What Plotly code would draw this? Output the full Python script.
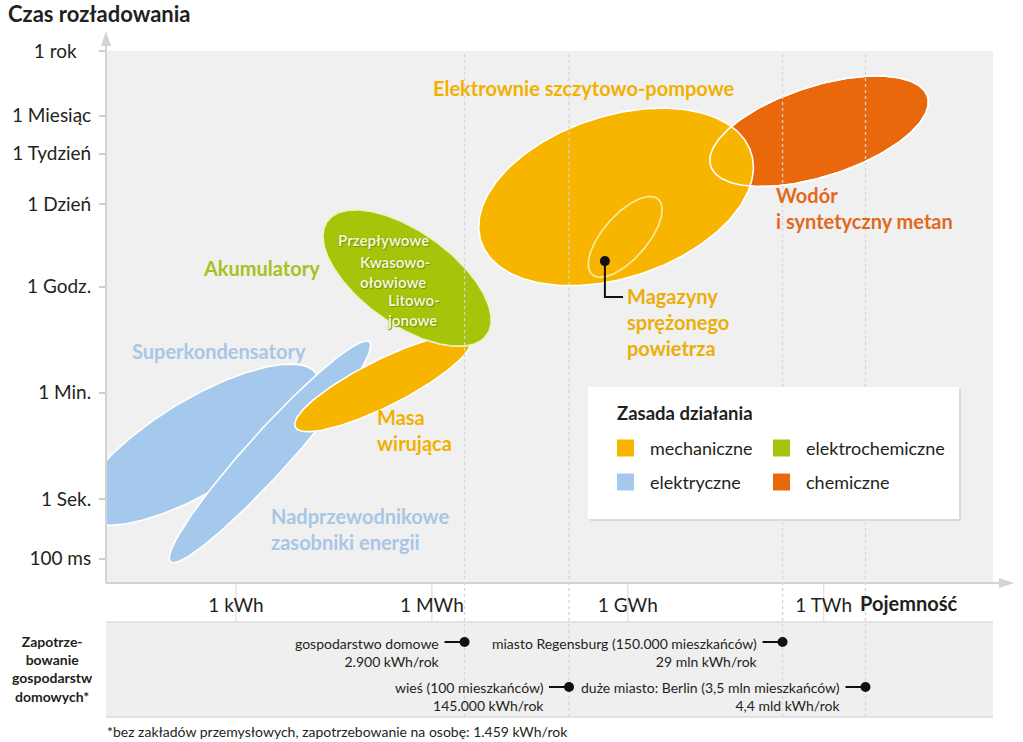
import numpy as np
import plotly.graph_objects as go

# ---------------- data ----------------
cap_tick_wh = [1e3, 1e6, 1e9, 1e12]
cap_tick_text = ["1 kWh", "1 MWh", "1 GWh", "1 TWh"]

time_tick_s = [0.1, 1, 60, 3600, 86400, 604800, 2629800, 31557600]
time_tick_text = ["100 ms", "1 Sek.", "1 Min.", "1 Godz.", "1 Dzień", "1 Tydzień", "1 Miesiąc",
                  "1 rok\u00a0\u00a0\u00a0"]

# storage technologies: ellipses in log10(Wh) x log10(s) space
tech_names = ["Superkondensatory", "Nadprzewodnikowe zasobniki energii", "Masa wirująca",
              "Akumulatory", "Wodór i syntetyczny metan", "Elektrownie szczytowo-pompowe"]
tech_type = ["elektryczne", "elektryczne", "mechaniczne", "elektrochemiczne", "chemiczne", "mechaniczne"]
tech_cx = [2.45, 3.52, 5.25, 5.62, 11.93, 8.82]
tech_cy = [0.91, 0.79, 1.94, 3.70, 6.16, 5.06]
tech_a = [2.14, 2.39, 1.53, 1.55, 1.76, 2.20]
tech_b = [0.75, 0.34, 0.38, 0.75, 0.75, 1.34]
tech_angle = [34.0, 50.5, 29.0, -39.5, 20.0, 21.7]

# compressed air storage (outline inside pumped hydro)
caes_cx, caes_cy, caes_a, caes_b, caes_angle = 8.96, 4.39, 0.81, 0.35, 52.5
caes_marker_pos = -0.63  # fraction of semi-major axis where the marker sits

# household demand reference points (log10 Wh per year, as placed on the chart)
demand_log_wh = [6.50, 8.10, 11.37, 12.64]
demand_label = ["gospodarstwo domowe", "wieś (100 mieszkańców)",
                "miasto Regensburg (150.000 mieszkańców)", "duże miasto: Berlin (3,5 mln mieszkańców)"]
demand_value = ["2.900 kWh/rok", "145.000 kWh/rok", "29 mln kWh/rok", "4,4 mld kWh/rok"]
demand_row = [0, 1, 0, 1]

legend_cats = ["mechaniczne", "elektrochemiczne", "elektryczne", "chemiczne"]
cat_color = {"mechaniczne": "#F7B500", "elektrochemiczne": "#A6C40A",
             "elektryczne": "#A4C9EC", "chemiczne": "#E9680C"}

# ---------------- layout helpers ----------------
W, H = 1023, 742
L, T, R, B = 106, 51, 993, 583
FONT = "Lato"


def pxx(p):
    return (p - L) / (R - L)


def pxy(p):
    return (B - p) / (B - T)


def ellipse(cx, cy, a, b, ang, n=240):
    t = np.linspace(0, 2 * np.pi, n)
    th = np.radians(ang)
    x = cx + a * np.cos(t) * np.cos(th) - b * np.sin(t) * np.sin(th)
    y = cy + a * np.cos(t) * np.sin(th) + b * np.sin(t) * np.cos(th)
    return x, y


fig = go.Figure()

outline = {"elektrochemiczne": "#EEF3C4"}
for i in range(len(tech_names)):
    x, y = ellipse(tech_cx[i], tech_cy[i], tech_a[i], tech_b[i], tech_angle[i])
    fig.add_trace(go.Scatter(x=x, y=y, mode="lines", fill="toself",
                             fillcolor=cat_color[tech_type[i]],
                             line=dict(color=outline.get(tech_type[i], "#FFFFFF"), width=1.6),
                             name=tech_names[i], hoverinfo="name", showlegend=False))

# hydrogen outline visible through pumped-hydro overlap
hi = tech_names.index("Wodór i syntetyczny metan")
x, y = ellipse(tech_cx[hi], tech_cy[hi], tech_a[hi], tech_b[hi], tech_angle[hi])
fig.add_trace(go.Scatter(x=x, y=y, mode="lines", line=dict(color="#FFFFFF", width=1.6),
                         hoverinfo="skip", showlegend=False))

# compressed air storage outline
x, y = ellipse(caes_cx, caes_cy, caes_a, caes_b, caes_angle)
fig.add_trace(go.Scatter(x=x, y=y, mode="lines", line=dict(color="#FCEBA8", width=1.6),
                         name="Magazyny sprężonego powietrza", showlegend=False))
th = np.radians(caes_angle)
mx = caes_cx + caes_marker_pos * caes_a * np.cos(th)
my = caes_cy + caes_marker_pos * caes_a * np.sin(th)
fig.add_trace(go.Scatter(x=[mx], y=[my], mode="markers",
                         marker=dict(color="#111111", size=10), hoverinfo="skip", showlegend=False))

shapes = []
# leader line for compressed air label
ly = (499 - 297) / 59.7
lx = 3 + (623 - 236) / 65.3
shapes.append(dict(type="path", xref="x", yref="y",
                   path=f"M {mx},{my} L {mx},{ly} L {lx},{ly}",
                   line=dict(color="#111111", width=2), layer="above"))

# lower demand band
band_top, band_bot = pxy(622), pxy(717)
shapes.append(dict(type="rect", xref="paper", yref="paper", x0=0, x1=1, y0=band_bot, y1=band_top,
                   fillcolor="#EFEFEF", line=dict(width=0), layer="below"))
for yy in (band_top, band_bot):
    shapes.append(dict(type="line", xref="paper", yref="paper", x0=0, x1=1, y0=yy, y1=yy,
                       line=dict(color="#DCDCDC", width=1.5), layer="below"))

# x tick lines through label band
for v in np.log10(cap_tick_wh):
    shapes.append(dict(type="line", xref="x", yref="paper", x0=v, x1=v, y0=0, y1=band_top,
                       line=dict(color="#DEDEDE", width=1.2), layer="below"))

# axis lines and arrows
ax_col = "#D3D3D3"
shapes.append(dict(type="line", xref="paper", yref="paper", x0=0, x1=0, y0=0, y1=pxy(40),
                   line=dict(color=ax_col, width=2), layer="above"))
shapes.append(dict(type="path", xref="paper", yref="paper",
                   path=f"M {pxx(101)},{pxy(46)} L {pxx(106)},{pxy(31)} L {pxx(111)},{pxy(46)} Z",
                   fillcolor=ax_col, line=dict(width=0), layer="above"))
shapes.append(dict(type="line", xref="paper", yref="paper", x0=0, x1=pxx(1002), y0=0, y1=0,
                   line=dict(color=ax_col, width=2), layer="above"))
shapes.append(dict(type="path", xref="paper", yref="paper",
                   path=f"M {pxx(999)},{pxy(578)} L {pxx(1014)},{pxy(583)} L {pxx(999)},{pxy(588)} Z",
                   fillcolor=ax_col, line=dict(width=0), layer="above"))

# demand dotted lines, connectors and dots
row_dot_y = [pxy(642), pxy(687)]
row_txt_y = [pxy(652), pxy(696)]
for v, r in zip(demand_log_wh, demand_row):
    shapes.append(dict(type="line", xref="x", yref="paper", x0=v, x1=v, y0=band_bot, y1=1,
                       line=dict(color="#D4D4D4", width=1.3, dash="dot"), layer="above"))
for v, r in zip(demand_log_wh, demand_row):
    shapes.append(dict(type="line", xref="x", yref="paper", xsizemode="pixel", xanchor=v,
                       x0=-20, x1=0, y0=row_dot_y[r], y1=row_dot_y[r],
                       line=dict(color="#111111", width=2), layer="above"))
    shapes.append(dict(type="circle", xref="x", yref="paper", xsizemode="pixel", ysizemode="pixel",
                       xanchor=v, yanchor=row_dot_y[r], x0=-5, x1=5, y0=-5, y1=5,
                       fillcolor="#111111", line=dict(width=0), layer="above"))

# legend box
shapes.append(dict(type="rect", xref="paper", yref="paper", x0=pxx(590), x1=pxx(961),
                   y0=pxy(521), y1=pxy(389), fillcolor="#DADADA", line=dict(width=0), layer="above"))
shapes.append(dict(type="rect", xref="paper", yref="paper", x0=pxx(588), x1=pxx(959),
                   y0=pxy(519), y1=pxy(387), fillcolor="#FFFFFF", line=dict(width=0), layer="above"))

annotations = []
leg_col_x = [617, 773]
leg_row_y = [448, 482]
for k, cat in enumerate(legend_cats):
    cx = leg_col_x[k % 2]
    cy = leg_row_y[k // 2]
    shapes.append(dict(type="rect", xref="paper", yref="paper", x0=pxx(cx), x1=pxx(cx + 17),
                       y0=pxy(cy + 8.5), y1=pxy(cy - 8.5), fillcolor=cat_color[cat],
                       line=dict(width=0), layer="above"))
    annotations.append(dict(text=cat, xref="paper", yref="paper", x=pxx(cx + 31), y=pxy(cy),
                            xanchor="left", yanchor="middle", showarrow=False,
                            font=dict(family=FONT, size=18, color="#231F20")))
annotations.append(dict(text="<b>Zasada działania</b>", xref="paper", yref="paper", x=pxx(615), y=pxy(413),
                        xanchor="left", yanchor="middle", showarrow=False,
                        font=dict(family=FONT, size=18.5, color="#231F20")))

# chart labels
mech_txt = "#F2B000"
labels = [
    ("Elektrownie szczytowo-pompowe", 431, 88, mech_txt),
    ("Wodór<br>i syntetyczny metan", 774, 208, "#E2691B"),
    ("Akumulatory", 201, 268, "#A5C21D"),
    ("Superkondensatory", 130, 351, "#A8C6E5"),
    ("Masa<br>wirująca", 375, 430, mech_txt),
    ("Nadprzewodnikowe<br>zasobniki energii", 269, 529, "#A8C6E5"),
    ("Magazyny<br>sprężonego<br>powietrza", 625, 322, "#EBAE0A"),
]
for txt, x0, y0, col in labels:
    annotations.append(dict(text=f"<b>{txt}</b>", xref="paper", yref="paper", x=pxx(x0), y=pxy(y0),
                            xanchor="left", yanchor="middle", align="left", showarrow=False,
                            font=dict(family=FONT, size=20, color=col)))
inner = [
    ("Przepływowe", 336, 240),
    ("Kwasowo-<br>ołowiowe", 358, 272),
    ("Litowo-<br>jonowe", 385, 310),
]
for txt, x0, y0 in inner:
    annotations.append(dict(text=f"<b>{txt}</b>", xref="paper", yref="paper", x=pxx(x0), y=pxy(y0),
                            xanchor="left", yanchor="middle", align="left", showarrow=False,
                            font=dict(family=FONT, size=15, color="#F4F7D0",
                                      shadow="0px 0px 1px #6F8A00, 1px 1px 1px #7E9600")))

# axis titles
annotations.append(dict(text="<b>Czas rozładowania</b>", xref="paper", yref="paper", x=pxx(6), y=pxy(14),
                        xanchor="left", yanchor="middle", showarrow=False,
                        font=dict(family=FONT, size=22, color="#231F20")))
annotations.append(dict(text="<b>Pojemność</b>", xref="paper", yref="paper", x=pxx(858), y=pxy(603),
                        xanchor="left", yanchor="middle", showarrow=False,
                        font=dict(family=FONT, size=20, color="#231F20")))

# demand labels
for v, r, lab, val in zip(demand_log_wh, demand_row, demand_label, demand_value):
    annotations.append(dict(text=f"{lab}<br>{val}", xref="x", yref="paper", x=v, xshift=-23,
                            y=row_txt_y[r], xanchor="right", yanchor="middle", align="right",
                            showarrow=False, font=dict(family=FONT, size=14, color="#231F20")))
annotations.append(dict(text="<b>Zapotrze-<br>bowanie<br>gospodarstw<br>domowych*</b>", xref="paper",
                        yref="paper", x=pxx(52), y=pxy(669), xanchor="center", yanchor="middle",
                        align="center", showarrow=False, font=dict(family=FONT, size=14, color="#231F20")))
annotations.append(dict(text="*bez zakładów przemysłowych, zapotrzebowanie na osobę: 1.459 kWh/rok",
                        xref="paper", yref="paper", x=pxx(105), y=pxy(731), xanchor="left",
                        yanchor="middle", showarrow=False, font=dict(family=FONT, size=14, color="#231F20")))

x_range = [3 - (236 - L) / 65.3, 3 + (R - 236) / 65.3]
y_range = [(499 - B) / 59.7, (499 - T) / 59.7]

fig.update_layout(
    width=W, height=H, autosize=False,
    margin=dict(l=L, r=W - R, t=T, b=H - B, pad=0),
    paper_bgcolor="#FFFFFF", plot_bgcolor="#F0F0F0",
    font=dict(family=FONT, color="#231F20"),
    showlegend=False,
    shapes=shapes, annotations=annotations,
    xaxis=dict(range=x_range, tickvals=list(np.log10(cap_tick_wh)), ticktext=cap_tick_text,
               ticks="outside", ticklen=5, tickcolor="rgba(0,0,0,0)",
               tickfont=dict(family=FONT, size=19, color="#231F20"),
               showgrid=False, zeroline=False, showline=False, fixedrange=True),
    yaxis=dict(range=y_range, tickvals=list(np.log10(time_tick_s)), ticktext=time_tick_text,
               ticks="outside", ticklen=6, tickcolor="#D0D0D0", tickwidth=1.5,
               ticklabelstandoff=4,
               tickfont=dict(family=FONT, size=19, color="#231F20"),
               showgrid=False, zeroline=False, showline=False, fixedrange=True),
)

fig.write_html("out.html", config={"displayModeBar": False},
               post_script="document.body.style.margin='0px';document.body.style.overflow='hidden';")
